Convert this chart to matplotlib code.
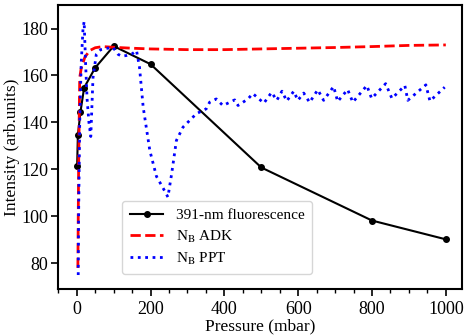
import numpy as np
import matplotlib
matplotlib.use('Agg')
import matplotlib.pyplot as plt
from matplotlib.ticker import MultipleLocator

plt.rcParams['font.family'] = 'Liberation Serif'
plt.rcParams['mathtext.fontset'] = 'stix'

# 391-nm fluorescence (measured points)
p_fl = [1, 3, 10, 20, 50, 100, 200, 500, 800, 1000]
i_fl = [121.4, 134.5, 144.4, 154.8, 163.3, 172.5, 164.8, 120.8, 98.2, 90.2]

# N_B ADK
p_adk = [3, 5, 8, 12, 22, 35, 50, 70, 100, 150, 200, 300, 400, 500, 600, 700, 800, 900, 1000]
i_adk = [78, 120, 159, 163, 167.8, 170.6, 171.8, 172.3, 172.0, 171.6, 171.3, 171.0, 171.0,
         171.3, 171.6, 171.9, 172.3, 172.8, 173.0]

# N_B PPT
p_ppt = [4, 5, 8, 12, 17, 20, 24, 28, 33, 38, 44, 53, 65, 80, 98, 112, 122, 135, 150, 162,
         170, 180, 198, 216, 234, 247, 257, 270, 288, 324, 351, 360, 378, 396, 415, 428, 437,
         464, 477, 507, 528, 542, 556, 569, 588, 599, 615, 631, 653, 669, 696, 707, 734, 748,
         786, 799, 837, 854, 889, 897, 946, 957, 997]
i_ppt = [75, 100, 140, 165, 180, 183, 165, 150, 140, 134, 159, 169, 171, 171.5, 172, 169,
         168.2, 168.5, 169.2, 170.6, 163.5, 146.5, 128, 117, 112, 108.2, 118, 132.3, 138,
         143.7, 145.8, 148.6, 150, 147.2, 148.6, 149.6, 147.2, 150, 152.3, 148.2, 152.8,
         149.4, 153.3, 149.1, 153.3, 149.4, 152.5, 148.5, 153.9, 149.4, 155.3, 148.9, 154.0,
         148.6, 155.7, 150.2, 156.5, 150.2, 155.7, 149.4, 156.0, 149.1, 155.0]

fig = plt.figure(figsize=(4.71, 3.35), dpi=100)
ax = fig.add_axes([0.123, 0.137, 0.858, 0.848])

ax.plot(p_fl, i_fl, color='black', marker='o', markersize=4, linewidth=1.5,
        label='391-nm fluorescence')
ax.plot(p_adk, i_adk, color='red', linestyle='--', linewidth=2, label='N$_\\mathrm{B}$ ADK')
ax.plot(p_ppt, i_ppt, color='blue', linestyle=':', linewidth=2, label='N$_\\mathrm{B}$ PPT')

ax.set_xlim(-51, 1044)
ax.set_ylim(69, 190)
ax.xaxis.set_major_locator(MultipleLocator(200))
ax.xaxis.set_minor_locator(MultipleLocator(50))
ax.yaxis.set_major_locator(MultipleLocator(20))
ax.tick_params(which='major', direction='out', length=5, width=1.2, labelsize=13)
ax.tick_params(which='minor', direction='out', length=3, width=1.0)
ax.tick_params(axis='y', pad=2)
for s in ax.spines.values():
    s.set_linewidth(1.5)

ax.set_xlabel('Pressure (mbar)', fontsize=12.5, labelpad=0)
ax.set_ylabel('Intensity (arb.units)', fontsize=12.5, labelpad=1)

ax.legend(loc='lower left', bbox_to_anchor=(0.14, 0.025), fontsize=11,
          handlelength=2.2, borderpad=0.5, labelspacing=0.4)

fig.savefig('out.png', dpi=100)
